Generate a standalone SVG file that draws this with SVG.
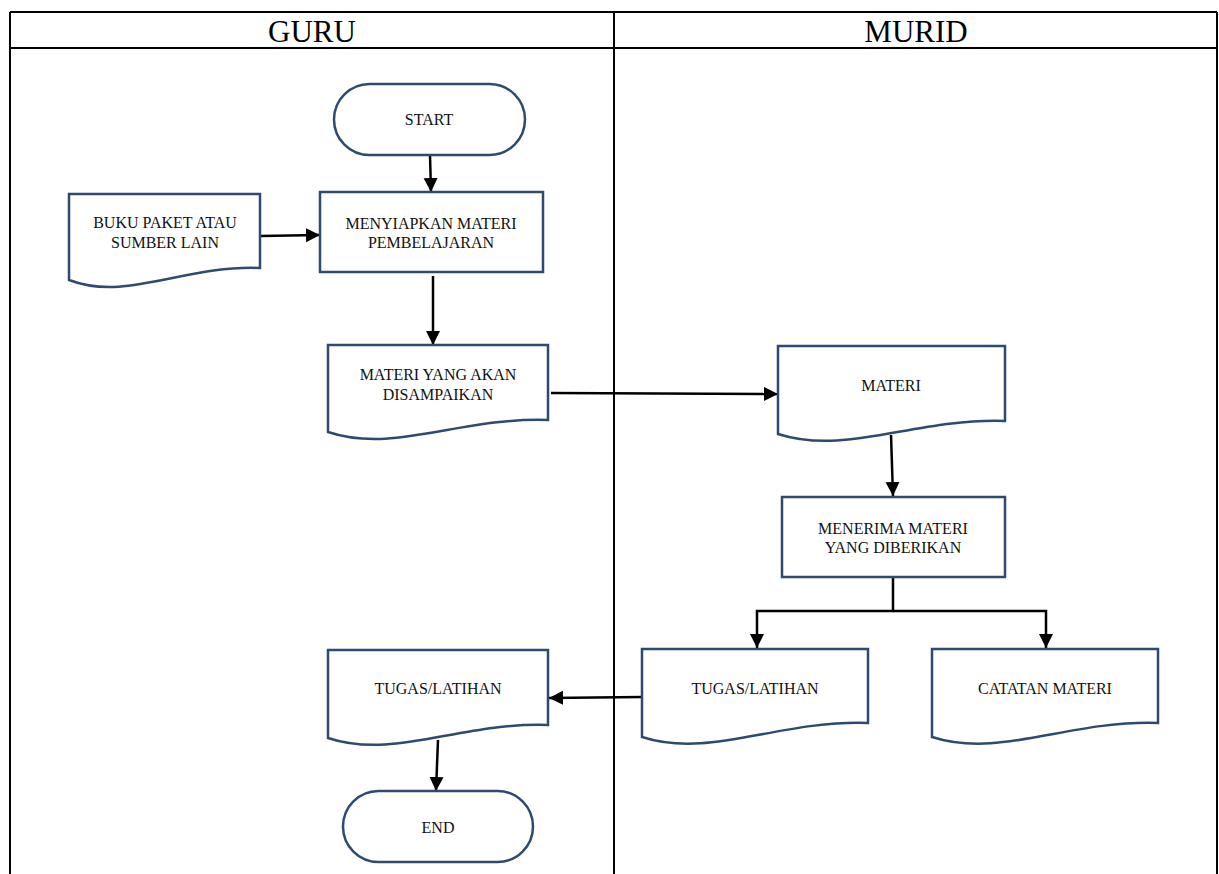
<svg xmlns="http://www.w3.org/2000/svg" width="1219" height="874" viewBox="0 0 1219 874">
  <style>
    .grid { stroke: #000; stroke-width: 2; fill: none; }
    .head { font-family: "Liberation Serif", "Times New Roman", serif; font-size: 31px; fill: #000; text-anchor: middle; }
    .shape { fill: #fff; stroke: #2d4a70; stroke-width: 2.5; }
    .label { font-family: "Liberation Serif", "Times New Roman", serif; font-size: 16px; fill: #111; text-anchor: middle; }
    .flow { stroke: #000; stroke-width: 2.5; fill: none; marker-end: url(#arrow); }
  </style>
  <defs>
    <marker id="arrow" markerUnits="userSpaceOnUse" markerWidth="15" markerHeight="15" refX="14" refY="7" orient="auto">
      <path d="M0,0 L14,7 L0,14 Z" fill="#000"/>
    </marker>
  </defs>

  <rect width="1219" height="874" fill="#fff"/>

  <!-- swimlane table -->
  <g id="lanes">
    <path class="grid" d="M10,12 H1217 M10,48 H1217 M10,12 V874 M614,12 V874 M1217,12 V874"/>
    <text class="head" x="312" y="42">GURU</text>
    <text class="head" x="916" y="42">MURID</text>
  </g>

  <!-- connectors -->
  <g id="connectors">
    <path class="flow" d="M430,155 L431,192"/>
    <path class="flow" d="M260,236 L320,235"/>
    <path class="flow" d="M433,276 L433,345"/>
    <path class="flow" d="M551,393 L778,394"/>
    <path class="flow" d="M891,435 L893,496"/>
    <path class="flow" d="M893,577 V611 H757 V648"/>
    <path class="flow" d="M893,611 H1046 V648"/>
    <path class="flow" d="M642,697 L549,698"/>
    <path class="flow" d="M438,740 L436,791"/>
  </g>

  <!-- guru lane -->
  <g id="start">
    <rect class="shape" x="334" y="84" width="191" height="71" rx="35.5"/>
    <text class="label" x="429" y="125">START</text>
  </g>
  <g id="buku-paket">
    <path class="shape" d="M69,194 H260 V268 C183.6,265 126.3,302 69,280 Z"/>
    <text class="label" x="165" y="228">BUKU PAKET ATAU</text>
    <text class="label" x="165" y="248">SUMBER LAIN</text>
  </g>
  <g id="menyiapkan-materi">
    <rect class="shape" x="320" y="192" width="223" height="80"/>
    <text class="label" x="431" y="229">MENYIAPKAN MATERI</text>
    <text class="label" x="431" y="248">PEMBELAJARAN</text>
  </g>
  <g id="materi-disampaikan">
    <path class="shape" d="M328,345 H548 V420 C460,417 394,454 328,432 Z"/>
    <text class="label" x="438" y="380">MATERI YANG AKAN</text>
    <text class="label" x="438" y="400">DISAMPAIKAN</text>
  </g>
  <g id="tugas-guru">
    <path class="shape" d="M328,650 H548 V725 C460,722 394,760 328,738 Z"/>
    <text class="label" x="438" y="694">TUGAS/LATIHAN</text>
  </g>
  <g id="end">
    <rect class="shape" x="343" y="791" width="190" height="71" rx="35.5"/>
    <text class="label" x="438" y="833">END</text>
  </g>

  <!-- murid lane -->
  <g id="materi">
    <path class="shape" d="M778,346 H1005 V421 C914.2,418 846.1,456 778,434 Z"/>
    <text class="label" x="891" y="391">MATERI</text>
  </g>
  <g id="menerima-materi">
    <rect class="shape" x="782" y="497" width="223" height="80"/>
    <text class="label" x="893" y="534">MENERIMA MATERI</text>
    <text class="label" x="893" y="553">YANG DIBERIKAN</text>
  </g>
  <g id="tugas-murid">
    <path class="shape" d="M642,649 H868 V723 C777.6,720 709.8,759 642,737 Z"/>
    <text class="label" x="755" y="694">TUGAS/LATIHAN</text>
  </g>
  <g id="catatan-materi">
    <path class="shape" d="M932,649 H1158 V723 C1067.6,720 999.8,759 932,737 Z"/>
    <text class="label" x="1045" y="694">CATATAN MATERI</text>
  </g>
</svg>
